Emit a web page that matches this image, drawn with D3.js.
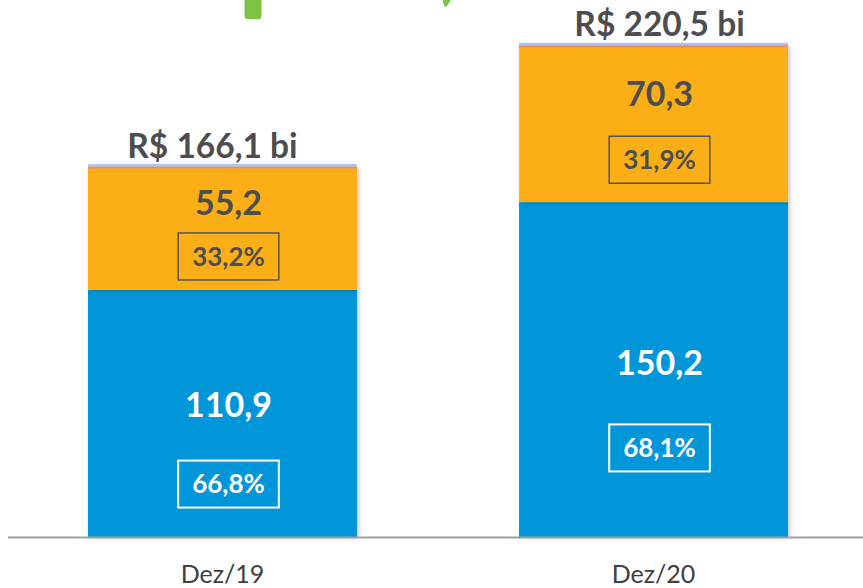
<!DOCTYPE html>
<html>
<head>
<meta charset="utf-8">
<script src="https://cdn.jsdelivr.net/npm/d3@7/dist/d3.min.js"></script>
<style>
  html, body { margin: 0; padding: 0; background: #ffffff; }
  svg { display: block; }
  text { font-family: Lato, "Open Sans", sans-serif; }
</style>
</head>
<body>
<svg id="chart" width="863" height="588"></svg>
<script>
// ---- data ----
const categories = ["Dez/19", "Dez/20"];
const seriesNames = ["Base", "Complemento"];
const baseValues = [110.9, 150.2];
const complementValues = [55.2, 70.3];
const basePercents = ["66,8%", "68,1%"];
const complementPercents = ["33,2%", "31,9%"];
const totalLabels = ["R$ 166,1 bi", "R$ 220,5 bi"];
const valueLabels = [["110,9", "150,2"], ["55,2", "70,3"]];

// ---- layout (label placement, not data) ----
const W = 863, H = 588;
const totalDx = [-10, 6];
const labelCfg = [
  { valFrac: 0.515, boxFrac: [0.786, 0.734], color: "#ffffff", stroke: "#ffffff", sw: 2 },
  { valFrac: 0.39, boxFrac: [0.73, 0.73], color: "#4d4d4f", stroke: "#555555", sw: 1.5 }
];

const svg = d3.select("#chart");

const x = d3.scaleBand().domain(categories).range([8, 868]).paddingInner(0.376).paddingOuter(0.1856);
const y = d3.scaleLinear().domain([0, 240]).range([537, 537 - 2.23 * 240]);

const colors = { Base: "#0096d9", Complemento: "#fcae17" };
const darkText = "#4d4d4f";

// drop shadow
const defs = svg.append("defs");
const f = defs.append("filter").attr("id", "sh").attr("x", "-10%").attr("y", "-10%").attr("width", "120%").attr("height", "120%");
f.append("feDropShadow").attr("dx", 2).attr("dy", 1).attr("stdDeviation", 2.2).attr("flood-color", "#000").attr("flood-opacity", 0.22);

// decorative logo fragments at top (cropped)
svg.append("path")
  .attr("d", "M244.5,0 L261.5,0 L261.5,16 Q261.5,19 258.5,19 L247.5,19 Q244.5,19 244.5,16 Z")
  .attr("fill", "#7dc242");
svg.append("path")
  .attr("d", "M442.5,0 L451,0 L446.5,6.5 Q445,7.2 444.2,5.8 Z")
  .attr("fill", "#7dc242");

// stack
const rows = categories.map((c, i) => ({ cat: c, Base: baseValues[i], Complemento: complementValues[i] }));
const stack = d3.stack().keys(seriesNames)(rows);

const g = svg.append("g");
stack.forEach((layer, li) => {
  g.append("g").selectAll("rect").data(layer).join("rect")
    .attr("x", d => x(d.data.cat))
    .attr("width", x.bandwidth())
    .attr("y", d => y(d[1]))
    .attr("height", d => y(d[0]) - y(d[1]))
    .attr("fill", colors[layer.key])
    .attr("filter", "url(#sh)");
});

// thin top borders (orange edge + light blue cap)
const topLayer = stack[stack.length - 1];
g.append("g").selectAll("rect").data(topLayer).join("rect")
  .attr("x", d => x(d.data.cat))
  .attr("width", x.bandwidth())
  .attr("y", d => y(d[1]))
  .attr("height", 2)
  .attr("fill", "#f4885a");
g.append("g").selectAll("rect").data(topLayer).join("rect")
  .attr("x", d => x(d.data.cat))
  .attr("width", x.bandwidth())
  .attr("y", d => y(d[1]) - 2.5)
  .attr("height", 2.5)
  .attr("fill", "#a9c3f2");

// axis
svg.append("line").attr("x1", 8).attr("x2", W).attr("y1", 537.5).attr("y2", 537.5)
  .attr("stroke", "#a0a0a0").attr("stroke-width", 1.8);
const ax = svg.append("g").attr("transform", "translate(0,537)")
  .call(d3.axisBottom(x).tickSize(0).tickPadding(28));
ax.select(".domain").remove();
ax.selectAll("text").attr("font-family", "Lato, sans-serif").attr("font-size", 25)
  .attr("fill", "#404040").attr("dy", "0.71em");

// totals
svg.append("g").selectAll("text").data(topLayer).join("text")
  .attr("x", (d, i) => x(d.data.cat) + x.bandwidth() / 2 + totalDx[i])
  .attr("y", d => y(d[1]) - 9)
  .attr("text-anchor", "middle")
  .attr("font-size", 33.5).attr("font-weight", 700).attr("fill", darkText)
  .text((d, i) => totalLabels[i]);

// segment labels
const pctLabels = [basePercents, complementPercents];
const labelLayer = svg.append("g");

stack.forEach((layer, li) => {
  const cfg = labelCfg[li];
  layer.forEach((d, i) => {
    const y0 = y(d[1]), y1 = y(d[0]);
    const h = y1 - y0;
    const cx = x(d.data.cat) + x.bandwidth() / 2 + 6;
    labelLayer.append("text")
      .attr("x", cx).attr("y", y0 + h * cfg.valFrac)
      .attr("text-anchor", "middle")
      .attr("font-size", 34).attr("font-weight", 700).attr("fill", cfg.color)
      .text(valueLabels[li][i]);
    const by = y0 + h * cfg.boxFrac[i];
    const t = labelLayer.append("text")
      .attr("x", cx).attr("y", by).attr("dy", "0.36em")
      .attr("text-anchor", "middle")
      .attr("font-size", 26).attr("font-weight", 700).attr("fill", cfg.color)
      .text(pctLabels[li][i]);
    const tw = t.node().getComputedTextLength();
    labelLayer.append("rect")
      .attr("x", cx - tw / 2 - 14).attr("width", tw + 28)
      .attr("y", by - 23.5).attr("height", 47)
      .attr("fill", "none").attr("stroke", cfg.stroke).attr("stroke-width", cfg.sw);
  });
});
</script>
</body>
</html>
